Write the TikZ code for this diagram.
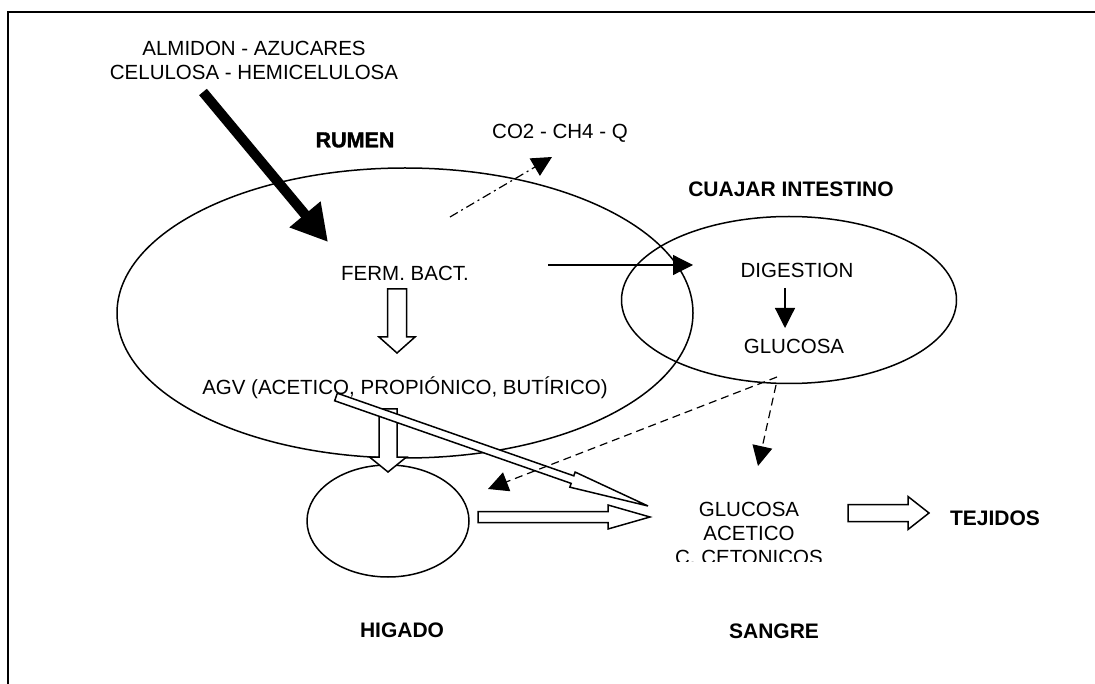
\documentclass[tikz,border=0pt]{standalone}
\usepackage{fontspec}
\setmainfont{Liberation Sans}
\newfontfamily\heavyfont[FakeBold=1.6]{Liberation Sans Bold}
\usetikzlibrary{arrows.meta,shapes,calc}

% hollow block arrow: from, to, half shaft, half head, head length
\newcommand{\fatarrow}[5]{%
  \coordinate (fa-base) at ($(#2)!#5!(#1)$);
  \draw[hollow] ($(#1)!#3!90:(#2)$) -- ($(fa-base)!#3!90:(#2)$)
    -- ($(fa-base)!#4!90:(#2)$) -- (#2) -- ($(fa-base)!#4!-90:(#2)$)
    -- ($(fa-base)!#3!-90:(#2)$) -- ($(#1)!#3!-90:(#2)$) -- cycle;}

\begin{document}
\begin{tikzpicture}[x=1pt,y=-1pt,line width=1.2pt,
                    >={Triangle[length=20pt,width=20pt]},
                    every node/.style={inner sep=0pt,font=\fontsize{20.5}{24}\selectfont}]
  \tikzstyle{title}=[font=\fontsize{21}{24}\selectfont\bfseries]
  \tikzstyle{organ}=[draw,ellipse,line width=1.5pt]
  \tikzstyle{hollow}=[draw,fill=white,line width=1.5pt,line join=miter]
  \tikzstyle{heavy}=[line width=10pt,-{Triangle[length=36pt,width=38pt]}]
  \tikzstyle{flow}=[->,line width=1.2pt]
  \tikzstyle{blood}=[->,line width=1.2pt,dash pattern=on 8pt off 5pt]
  \tikzstyle{gas}=[->,line width=1.2pt,dash pattern=on 9pt off 4pt on 2pt off 4pt]

  \useasboundingbox (0,0) rectangle (1095,684);
  \draw[line width=1.6pt] (8,684) -- (8,12) -- (1095,12);

  % organs
  \node[organ,minimum width=576pt,minimum height=290pt] (rumen)  at (405,313) {};
  \node[organ,minimum width=335pt,minimum height=167pt] (cuajar) at (789,300) {};
  \node[organ,minimum width=162pt,minimum height=112pt] (higado) at (388,521) {};

  % labels
  \node[title,font=\fontsize{21.5}{24}\heavyfont] (rumenlbl) at (355,140) {RUMEN};
  \node[title] (cuajarlbl) at (791,189) {CUAJAR INTESTINO};
  \node[title] (higadolbl) at (402,630) {HIGADO};
  \node[title] (sangrelbl) at (774,631) {SANGRE};
  \node[title] (tejidos)   at (995,518) {TEJIDOS};

  \node[align=center] (alimento) at (254,60) {ALMIDON - AZUCARES\\CELULOSA - HEMICELULOSA};
  \node (co2)       at (560,133) {CO2 - CH4 - Q};
  \node (ferm)      at (405,273) {FERM. BACT.};
  \node (agv)       at (405,388) {AGV (ACETICO, PROPIÓNICO, BUTÍRICO)};
  \node (digestion) at (797,270) {DIGESTION};
  \node (glucosa)   at (794,346) {GLUCOSA};
  \begin{scope}
    \clip (640,480) rectangle (860,561);
    \node[align=center] (sangre) at (749,533) {GLUCOSA\\ACETICO\\C. CETONICOS};
  \end{scope}

  % free ends
  \coordinate (in1) at (203,92);   \coordinate (in2) at (328,242);
  \coordinate (g1)  at (450,217);  \coordinate (g2)  at (552,157);
  \coordinate (p1)  at (548,265);  \coordinate (p2)  at (693,265);
  \coordinate (q1)  at (785,288);  \coordinate (q2)  at (785,328);
  \coordinate (b1)  at (777,377);  \coordinate (b2)  at (488,489);
  \coordinate (c1)  at (776,385);  \coordinate (c2)  at (758,466);
  \coordinate (f1)  at (397,289);  \coordinate (f2)  at (397,353);
  \coordinate (a1)  at (388,409);  \coordinate (a2)  at (388,472);
  \coordinate (d1)  at (336,397);  \coordinate (d2)  at (648,506);
  \coordinate (h1)  at (478,517);  \coordinate (h2)  at (650,517);
  \coordinate (s1)  at (848,513);  \coordinate (s2)  at (929,513);

  % block arrows
  \fatarrow{f1}{f2}{9.5pt}{18pt}{16pt}
  \fatarrow{a1}{a2}{9pt}{18.5pt}{15pt}
  \fatarrow{d1}{d2}{4pt}{8pt}{80pt}
  \fatarrow{h1}{h2}{5.5pt}{12pt}{42pt}
  \fatarrow{s1}{s2}{8.5pt}{16.5pt}{21pt}

  % line arrows
  \draw[heavy] (in1) -- (in2);
  \draw[gas]   (g1) -- (g2);
  \draw[flow]  (p1) -- (p2);
  \draw[flow]  (q1) -- (q2);
  \draw[blood] (b1) -- (b2);
  \draw[blood] (c1) -- (c2);
\end{tikzpicture}
\end{document}
